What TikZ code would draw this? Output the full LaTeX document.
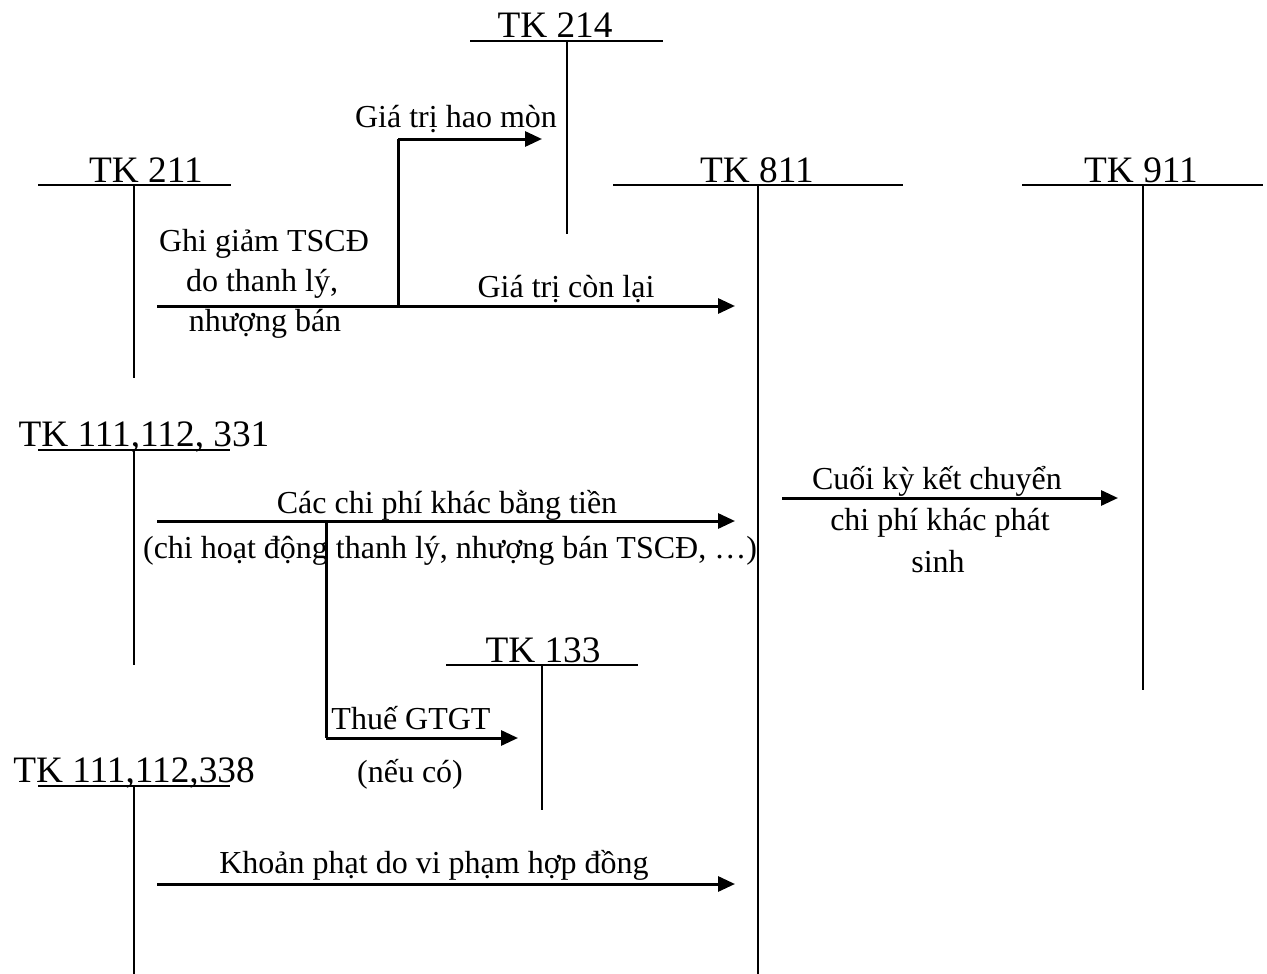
\documentclass[tikz,border=0pt]{standalone}
\usepackage{fontspec}
\setmainfont{Liberation Serif}
\usetikzlibrary{arrows.meta}
\begin{document}
\begin{tikzpicture}[x=1pt,y=-1pt,
  acct/.style={font=\fontsize{37.3}{42}\selectfont, inner sep=0pt, anchor=base},
  lbl/.style={font=\fontsize{32}{40}\selectfont, inner sep=0pt, anchor=base},
  tline/.style={line width=2.8pt},
  flow/.style={line width=3pt, -{Triangle[length=17pt,width=15pt]}},
  seg/.style={line width=3pt},
]
\useasboundingbox (0,0) rectangle (1267,974);

% ---- T-accounts: title, top bar, vertical stem ----
% TK 214
\node[acct] (t214) at (555,38) {TK 214};
\coordinate (t214l) at (470,41); \coordinate (t214r) at (663,41);
\coordinate (t214a) at (567,41); \coordinate (t214b) at (567,234);
\draw[tline] (t214l) -- (t214r);
\draw[tline] (t214a) -- (t214b);

% TK 211
\node[acct] (t211) at (146,182) {TK 211};
\coordinate (t211l) at (38,185); \coordinate (t211r) at (231,185);
\coordinate (t211a) at (134,185); \coordinate (t211b) at (134,378);
\draw[tline] (t211l) -- (t211r);
\draw[tline] (t211a) -- (t211b);

% TK 811
\node[acct] (t811) at (757,182) {TK 811};
\coordinate (t811l) at (613,185); \coordinate (t811r) at (903,185);
\coordinate (t811a) at (758,185); \coordinate (t811b) at (758,974);
\draw[tline] (t811l) -- (t811r);
\draw[tline] (t811a) -- (t811b);

% TK 911
\node[acct] (t911) at (1141,182) {TK 911};
\coordinate (t911l) at (1022,185); \coordinate (t911r) at (1263,185);
\coordinate (t911a) at (1143,185); \coordinate (t911b) at (1143,690);
\draw[tline] (t911l) -- (t911r);
\draw[tline] (t911a) -- (t911b);

% TK 111,112, 331
\node[acct] (t331) at (144,446) {TK 111,112, 331};
\coordinate (t331l) at (38,450); \coordinate (t331r) at (230,450);
\coordinate (t331a) at (134,450); \coordinate (t331b) at (134,665);
\draw[tline] (t331l) -- (t331r);
\draw[tline] (t331a) -- (t331b);

% TK 133
\node[acct] (t133) at (543,662) {TK 133};
\coordinate (t133l) at (446,665); \coordinate (t133r) at (638,665);
\coordinate (t133a) at (542,665); \coordinate (t133b) at (542,810);
\draw[tline] (t133l) -- (t133r);
\draw[tline] (t133a) -- (t133b);

% TK 111,112,338
\node[acct] (t338) at (134,782) {TK 111,112,338};
\coordinate (t338l) at (38,786); \coordinate (t338r) at (230,786);
\coordinate (t338a) at (134,786); \coordinate (t338b) at (134,974);
\draw[tline] (t338l) -- (t338r);
\draw[tline] (t338a) -- (t338b);

% ---- Disposal of fixed assets ----
\coordinate (f1s) at (157,306); \coordinate (f1e) at (735,306);
\coordinate (f1k) at (398,306); \coordinate (f1u) at (398,139);
\coordinate (f1h) at (542,139);
\draw[flow] (f1s) -- (f1e);
\draw[seg] (f1k) -- (f1u);
\draw[flow] (f1u) -- (f1h);
\node[lbl] (g1) at (264,251) {Ghi giảm TSCĐ};
\node[lbl] (g2) at (262,291) {do thanh lý,};
\node[lbl] (g3) at (265,331) {nhượng bán};
\node[lbl] (hm) at (456,127) {Giá trị hao mòn};
\node[lbl] (cl) at (566,297) {Giá trị còn lại};

% ---- Other cash expenses ----
\coordinate (f2s) at (157,521); \coordinate (f2e) at (735,521);
\coordinate (f2k) at (326,521); \coordinate (f2d) at (326,738);
\coordinate (f2h) at (518,738);
\draw[flow] (f2s) -- (f2e);
\draw[seg] (f2k) -- (f2d);
\draw[flow] (f2d) -- (f2h);
\node[lbl] (c1) at (447,513) {Các chi phí khác bằng tiền};
\node[lbl] (c2) at (450,558) {(chi hoạt động thanh lý, nhượng bán TSCĐ, …)};
\node[lbl] (v1) at (411,729) {Thuế GTGT};
\node[lbl] (v2) at (410,782) {(nếu có)};

% ---- Contract penalties ----
\coordinate (f3s) at (157,884); \coordinate (f3e) at (735,884);
\draw[flow] (f3s) -- (f3e);
\node[lbl] (kp) at (434,873) {Khoản phạt do vi phạm hợp đồng};

% ---- Period-end transfer ----
\coordinate (f4s) at (782,498); \coordinate (f4e) at (1118,498);
\draw[flow] (f4s) -- (f4e);
\node[lbl] (k1) at (937,489) {Cuối kỳ kết chuyển};
\node[lbl] (k2) at (940,530) {chi phí khác phát};
\node[lbl] (k3) at (938,572) {sinh};
\end{tikzpicture}
\end{document}
